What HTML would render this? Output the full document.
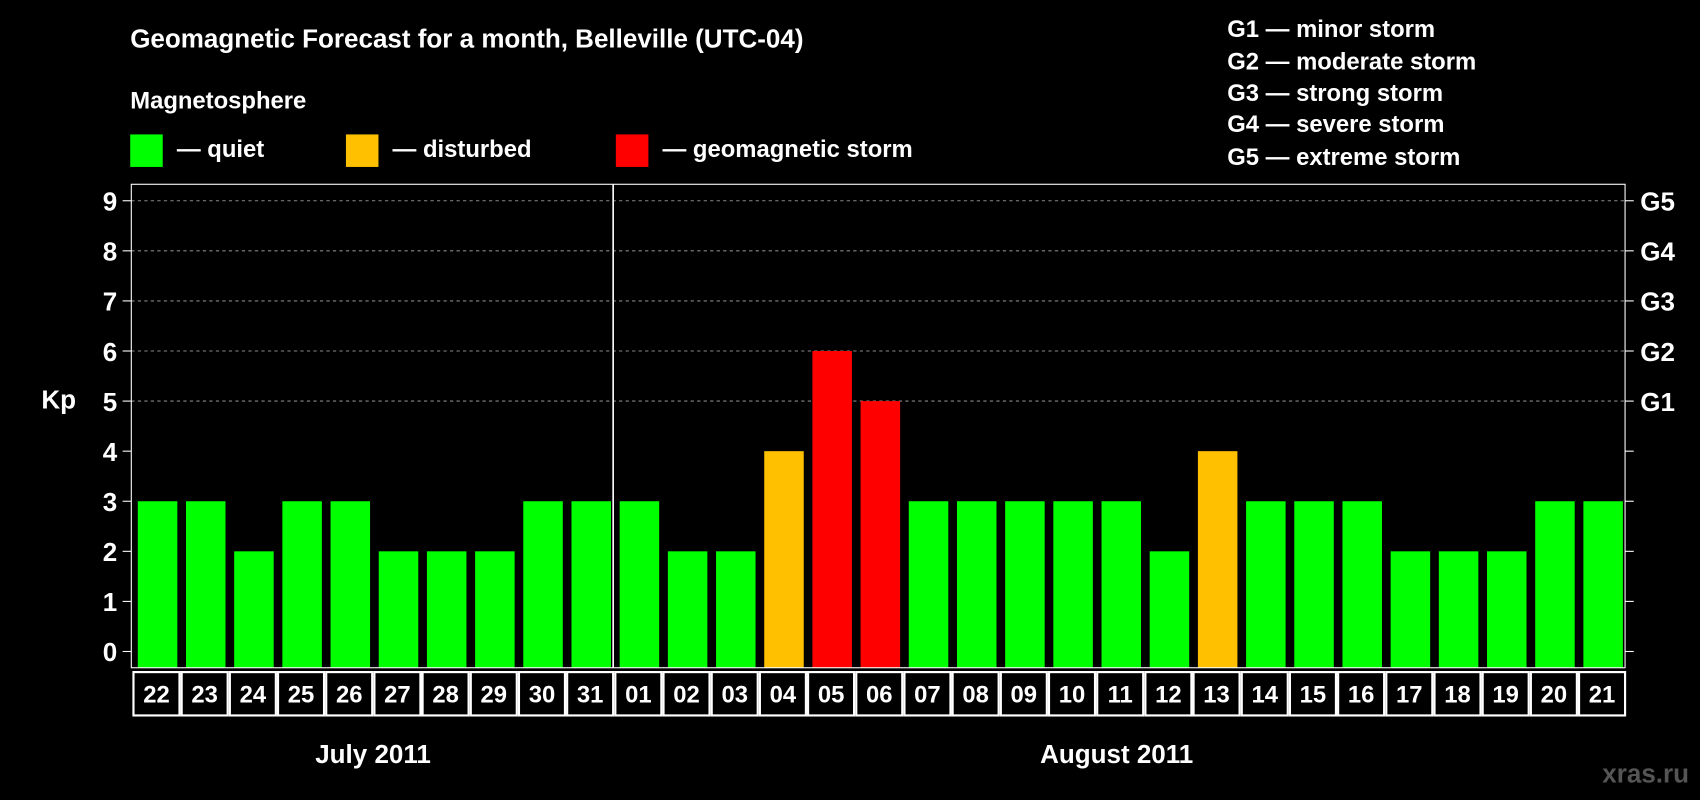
<!DOCTYPE html>
<html><head><meta charset="utf-8"><style>
html,body{margin:0;padding:0;background:#000;width:1700px;height:800px;overflow:hidden}
svg{display:block}
text{font-family:"Liberation Sans",Arial,sans-serif;font-weight:bold;fill:#fff}
</style></head><body>
<svg id="chart" width="1700" height="800" viewBox="0 0 1568 738" xmlns="http://www.w3.org/2000/svg">
<rect width="1568" height="738" fill="#000"/>
<text x="120" y="44" font-size="24">Geomagnetic Forecast for a month, Belleville (UTC-04)</text>
<text x="120" y="100" font-size="22">Magnetosphere</text>
<g>
<rect x="120" y="124" width="30" height="30" fill="#00ff00"/>
<text x="163" y="145" font-size="22">— quiet</text>
<rect x="319" y="124" width="30" height="30" fill="#ffc000"/>
<text x="362" y="145" font-size="22">— disturbed</text>
<rect x="568" y="124" width="30" height="30" fill="#ff0000"/>
<text x="611" y="145" font-size="22">— geomagnetic storm</text>
</g>
<g font-size="22">
<text x="1132" y="34">G1 — minor storm</text>
<text x="1132" y="64">G2 — moderate storm</text>
<text x="1132" y="93">G3 — strong storm</text>
<text x="1132" y="122">G4 — severe storm</text>
<text x="1132" y="152">G5 — extreme storm</text>
</g>
<text x="38" y="377" font-size="24">Kp</text>
<g id="plot"></g>
<text x="344" y="704" font-size="24" text-anchor="middle">July 2011</text>
<text x="1030" y="704" font-size="24" text-anchor="middle">August 2011</text>
<text x="1558" y="722" font-size="24" text-anchor="end" style="fill:#555">xras.ru</text>
</svg>
<script>
const days = ["22","23","24","25","26","27","28","29","30","31","01","02","03","04","05","06","07","08","09","10","11","12","13","14","15","16","17","18","19","20","21"];
const kpValues = [3,3,2,3,3,2,2,2,3,3,3,2,2,4,6,5,3,3,3,3,3,2,4,3,3,3,2,2,2,3,3];
const yTicks = [0,1,2,3,4,5,6,7,8,9];
const gLabels = ["","","","","","G1","G2","G3","G4","G5"];
const monthSplitIndex = 10;

const NS="http://www.w3.org/2000/svg";
const L=121,R=1499,T=170,B=616;
const y=v=>601-v*46.2;
const slot=(R-L)/days.length;
const x=i=>L+i*slot;
const g=document.getElementById('plot');
function mk(tag,attrs){const e=document.createElementNS(NS,tag);for(const k in attrs)e.setAttribute(k,attrs[k]);g.appendChild(e);return e;}
// gridlines
yTicks.forEach((t,i)=>{
  if(t>=5){const gl=mk('line',{x1:L,x2:R,y1:y(t),y2:y(t),stroke:'#888','stroke-dasharray':'3,3','stroke-width':1});
  
  }
  const lt=mk('line',{x1:L-8,x2:L,y1:y(t),y2:y(t),stroke:'#fff','stroke-width':1});
  
  
  const rt=mk('line',{x1:R,x2:R+8,y1:y(t),y2:y(t),stroke:'#fff','stroke-width':1});
  
  
  const tx=mk('text',{x:L-13,y:y(t)+9,'font-size':24,'text-anchor':'end'});tx.textContent=t;
  
  
  if(gLabels[i]){const gt=mk('text',{x:R+14,y:y(t)+9,'font-size':24});gt.textContent=gLabels[i];
  
  }
});
// bars
kpValues.forEach((v,i)=>{
  const c=v>=5?'#ff0000':(v>=4?'#ffc000':'#00ff00');
  const b=mk('rect',{x:x(i)+6,y:y(v),width:slot-8,height:B-y(v),fill:c});
  
  
});
// frame
const fr=mk('rect',{x:L,y:T,width:R-L,height:B-T,fill:'none',stroke:'#fff','stroke-width':1});


const sp=mk('line',{x1:x(monthSplitIndex),x2:x(monthSplitIndex),y1:T,y2:B,stroke:'#fff','stroke-width':1.5});


// date cells
days.forEach((d,i)=>{
  const c=mk('rect',{x:x(i)+2,y:620,width:slot-2,height:40,fill:'#000',stroke:'#fff','stroke-width':2});
  
  
  const t=mk('text',{x:x(i)+1+slot/2,y:648,'font-size':22,'text-anchor':'middle'});t.textContent=d;
  
  
});
</script>
</body></html>
